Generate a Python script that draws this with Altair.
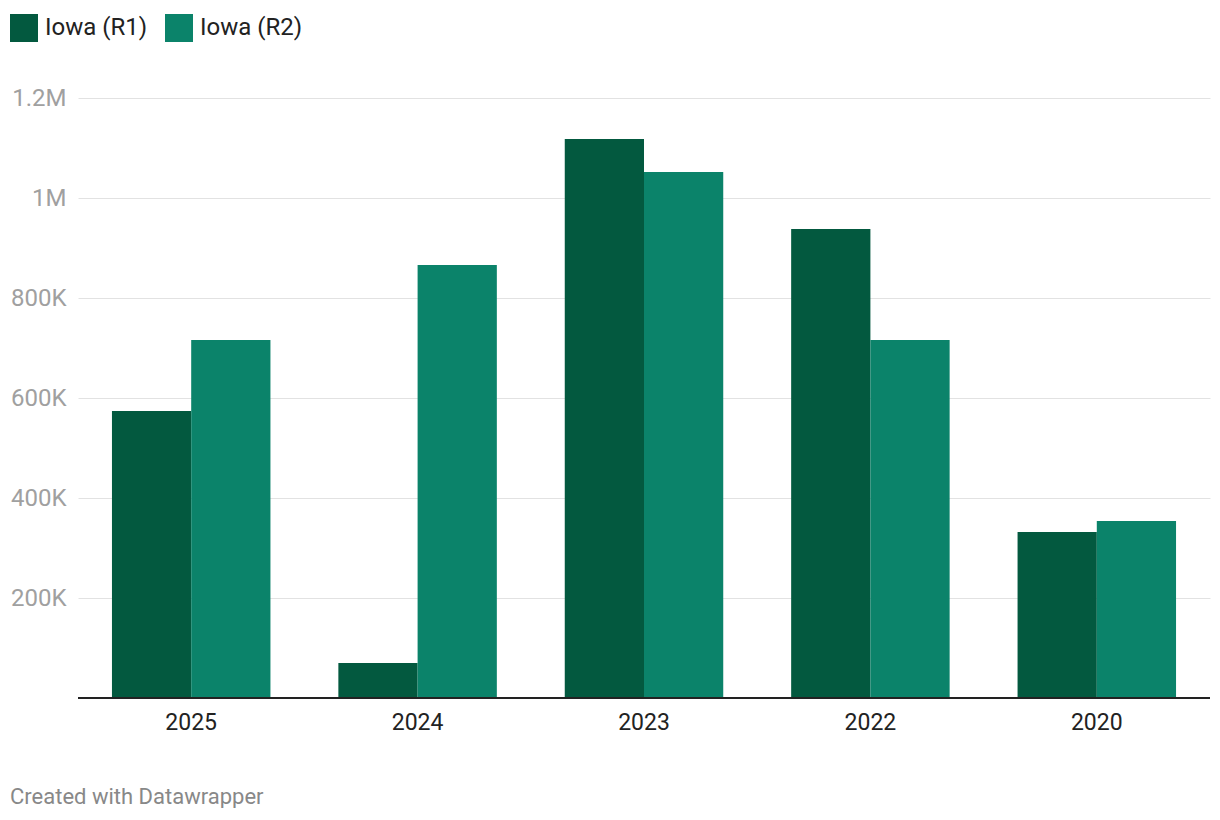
import altair as alt
import pandas as pd

years = ["2025", "2024", "2023", "2022", "2020"]
r1_values = [574000, 70000, 1118000, 938000, 332000]
r2_values = [716000, 866000, 1052000, 716000, 354000]
series = ["Iowa (R1)", "Iowa (R2)"]
colors = ["#03593f", "#0b836a"]
y_ticks = [200000, 400000, 600000, 800000, 1000000, 1200000]

rows = []
for i, yr in enumerate(years):
    rows.append({"year": yr, "series": series[0], "value": r1_values[i]})
    rows.append({"year": yr, "series": series[1], "value": r2_values[i]})
df = pd.DataFrame(rows)

FONT = "Roboto"

bars = alt.Chart(df).mark_bar().encode(
    x=alt.X("year:N", sort=years, title=None,
            scale=alt.Scale(paddingInner=0.3, paddingOuter=0.15),
            axis=alt.Axis(labelAngle=0, labelFont=FONT, labelFontSize=23,
                          labelColor="#222222", ticks=False, domain=False,
                          grid=False, labelPadding=13)),
    xOffset=alt.XOffset("series:N", sort=series, scale=alt.Scale(paddingInner=0, paddingOuter=0)),
    y=alt.Y("value:Q", title=None,
            scale=alt.Scale(domain=[0, 1200000], nice=False),
            axis=alt.Axis(values=y_ticks, labelFont=FONT, labelFontSize=24,
                          labelColor="#a0a0a0", ticks=False, domain=False,
                          labelPadding=12, gridColor="#e2e2e2", gridWidth=1,
                          labelExpr="datum.value >= 1000000 ? format(datum.value/1000000, '~g') + 'M' : format(datum.value/1000, '~g') + 'K'")),
    color=alt.Color("series:N", sort=series,
                    scale=alt.Scale(domain=series, range=colors),
                    legend=alt.Legend(title=None, orient="none", direction="horizontal",
                                      legendX=-68, legendY=-84,
                                      symbolType="square", symbolSize=784,
                                      symbolStrokeWidth=0, symbolOpacity=1,
                                      labelFont=FONT, labelFontSize=24,
                                      labelColor="#222222", labelOffset=7,
                                      columnPadding=17)),
)

base_df = pd.DataFrame({"zero": [0]})
baseline = alt.Chart(base_df).mark_rule(color="#222222", strokeWidth=2).encode(
    y=alt.Y("zero:Q")
)

footer_df = pd.DataFrame({"t": ["Created with Datawrapper"]})
footer = alt.Chart(footer_df).mark_text(
    align="left", baseline="middle", font=FONT, fontSize=22, color="#888888"
).encode(
    text="t:N", x=alt.value(-68), y=alt.value(699)
)

chart = alt.layer(bars, baseline, footer).properties(
    width=1132, height=600,
    padding={"left": 70, "top": 90, "right": 2, "bottom": 110},
    autosize=alt.AutoSizeParams(type="none"),
    background="white",
).configure_view(strokeWidth=0)

chart.save("out.html", embed_options={"renderer": "svg", "actions": False})
